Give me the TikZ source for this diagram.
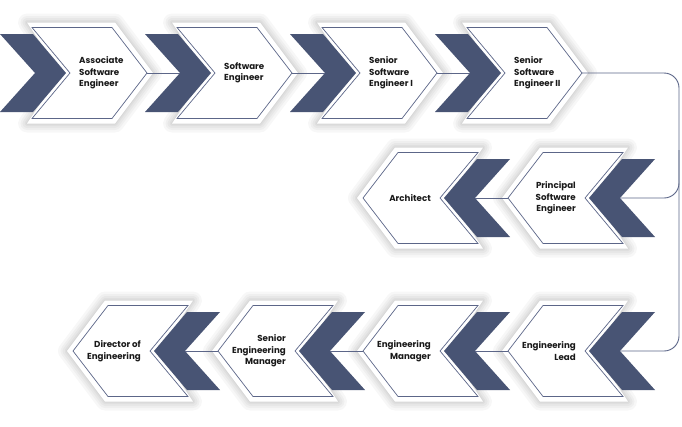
\documentclass[tikz,border=0pt]{standalone}
\usepackage{fontspec}
\setmainfont{Poppins}
\definecolor{navy}{HTML}{485474}
\definecolor{edge}{HTML}{5C6688}
\definecolor{ink}{HTML}{1A1A1A}
\tikzset{
  darkfill/.style={fill=navy},
  outl/.style={draw=edge, line width=0.7pt, line join=miter},
  haze/.style={draw=black, opacity=0.03, line join=round},
  lbl/.style={font=\fontsize{8.7}{11.5}\selectfont\bfseries, text=ink, inner sep=0pt},
  link/.style={draw=edge, line width=0.9pt},
}
\newcommand\ShadowedFill[1]{%
 \foreach \w in {18,13,9,5,2} {\draw[haze, line width=\w pt] #1;}
 \fill[white] #1;}
\newcommand\RItem[4]{%
\begin{scope}[shift={(#2,#3)}]
 \ShadowedFill{(27,-50.5) -- (115,-50.5) -- (153,0) -- (115,50.5) -- (27,50.5) -- (61,0) -- cycle}
 \draw[outl] (32,-45.5) -- (112,-45.5) -- (147,0) -- (112,45.5) -- (32,45.5) -- (70,0) -- cycle;
 \fill[darkfill] (0,-39) -- (33,-39) -- (66,0) -- (33,39) -- (0,39) -- (35,0) -- cycle;
 \coordinate (#1-tip) at (147,0);
 \coordinate (#1-notch) at (35,0);
 \node[lbl, anchor=west, align=left] (#1) at (79,0) {#4};
\end{scope}}
\newcommand\LItem[4]{%
\begin{scope}[shift={(#2,#3)}]
 \ShadowedFill{(-27,-50.5) -- (-115,-50.5) -- (-153,0) -- (-115,50.5) -- (-27,50.5) -- (-61,0) -- cycle}
 \draw[outl] (-32,-45.5) -- (-112,-45.5) -- (-147,0) -- (-112,45.5) -- (-32,45.5) -- (-70,0) -- cycle;
 \fill[darkfill] (0,-39) -- (-33,-39) -- (-66,0) -- (-33,39) -- (0,39) -- (-35,0) -- cycle;
 \coordinate (#1-tip) at (-147,0);
 \coordinate (#1-notch) at (-35,0);
 \node[lbl, anchor=east, align=right] (#1) at (-79,0) {#4};
\end{scope}}
\begin{document}
\begin{tikzpicture}[x=1pt,y=-1pt]
\useasboundingbox[fill=white] (0,0) rectangle (682,426);
% row 1
\RItem{a}{0}{73}{Associate\\Software\\Engineer}
\RItem{b}{145}{73}{Software\\Engineer}
\RItem{c}{290}{73}{Senior\\Software\\Engineer I}
\RItem{d}{435}{73}{Senior\\Software\\Engineer II}
% row 2
\LItem{e}{655}{198}{Principal\\Software\\Engineer}
\LItem{f}{510}{198}{Architect}
% row 3
\LItem{g}{655}{351}{Engineering\\Lead}
\LItem{h}{510}{351}{Engineering\\Manager}
\LItem{i}{365}{351}{Senior\\Engineering\\Manager}
\LItem{j}{220}{351}{Director of\\Engineering}
% connectors
\coordinate (turn) at (679,73);
\coordinate (down) at (679,351);
\draw[link] (a-tip) -- (b-notch);
\draw[link] (b-tip) -- (c-notch);
\draw[link] (c-tip) -- (d-notch);
\draw[link, rounded corners=15pt] (d-tip) -- (turn) -- (turn |- e-notch) -- (e-notch);
\draw[link, rounded corners=15pt] (679,150) -- (down) -- (g-notch);
\draw[link] (e-tip) -- (f-notch);
\draw[link] (g-tip) -- (h-notch);
\draw[link] (h-tip) -- (i-notch);
\draw[link] (i-tip) -- (j-notch);
\end{tikzpicture}
\end{document}
